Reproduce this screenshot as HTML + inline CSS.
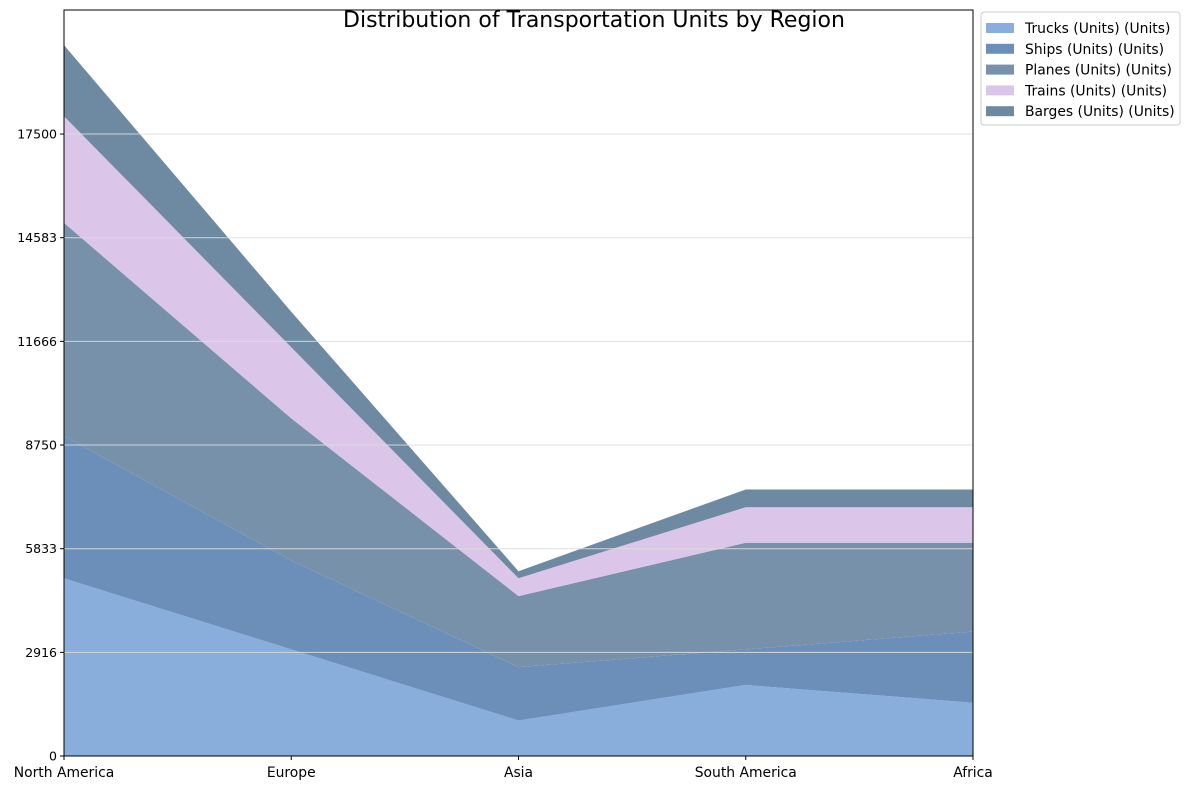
<!DOCTYPE html>
<html><head><meta charset="utf-8"><style>
body{margin:0;background:#fff;font-family:"DejaVu Sans","Liberation Sans",sans-serif;}
svg text{font-family:"DejaVu Sans","Liberation Sans",sans-serif;}
</style></head><body>
<svg id="c" width="1189" height="790" xmlns="http://www.w3.org/2000/svg"></svg>
<script>
const categories=["North America","Europe","Asia","South America","Africa"];
const seriesNames=["Trucks (Units) (Units)","Ships (Units) (Units)","Planes (Units) (Units)","Trains (Units) (Units)","Barges (Units) (Units)"];
const trucks=[5000,3000,1000,2000,1500];
const ships=[4000,2500,1500,1000,2000];
const planes=[6000,4000,2000,3000,2500];
const trains=[3000,2000,500,1000,1000];
const barges=[2000,1000,200,500,500];
const yTicks=[0,2916,5833,8750,11666,14583,17500];
const colors=["#8aaedb","#6b8fb8","#7891aa","#dbc5e8","#6e8aa2"];
const series=[trucks,ships,planes,trains,barges];
const NS="http://www.w3.org/2000/svg";
const svg=document.getElementById("c");
const L=64,R=973,T=10,B=756,yMax=20990;
const x=i=>L+(R-L)*i/(categories.length-1);
const y=v=>B-(B-T)*v/yMax;
function el(t,a,p){const e=document.createElementNS(NS,t);for(const k in a)e.setAttribute(k,a[k]);(p||svg).appendChild(e);return e;}
let base=categories.map(()=>0);
series.forEach((s,si)=>{
  const top=base.map((b,i)=>b+s[i]);
  let d="M"+top.map((v,i)=>x(i)+","+y(v)).join(" L");
  for(let i=categories.length-1;i>=0;i--)d+=" L"+x(i)+","+y(base[i]);
  const p=el("path",{d:d+"Z",fill:colors[si]});
  
  
  base=top;
});
yTicks.forEach(v=>{
  if(v>0){const g=el("line",{x1:L,x2:R,y1:y(v),y2:y(v),stroke:"#dddddd","stroke-width":1,opacity:0.9});
  
  }
  el("line",{x1:L-4,x2:L,y1:y(v),y2:y(v),stroke:"#000"});
  const t=el("text",{x:L-7,y:y(v)+4.5,"text-anchor":"end","font-size":12.5});
  t.textContent=v;
  
  
});
categories.forEach((c,i)=>{
  el("line",{x1:x(i),x2:x(i),y1:B,y2:B+4,stroke:"#000"});
  const t=el("text",{x:x(i),y:B+21,"text-anchor":"middle","font-size":13.9});
  t.textContent=c;
  
  
});
const fr=el("rect",{x:L,y:T,width:R-L,height:B-T,fill:"none",stroke:"#000"});


const ti=el("text",{x:594,y:27,"text-anchor":"middle","font-size":22});
ti.textContent="Distribution of Transportation Units by Region";


const lg=el("g",{});


el("rect",{x:981,y:12,width:199,height:113,rx:3,fill:"#fff",stroke:"#ccc"},lg);
seriesNames.forEach((n,i)=>{
  const g=el("g",{},lg);
  
  
  el("rect",{x:986,y:23+i*20.8,width:28,height:10,fill:colors[i]},g);
  const t=el("text",{x:1025,y:33+i*20.8,"font-size":13.9},g);
  t.textContent=n;
});
</script>
</body></html>
